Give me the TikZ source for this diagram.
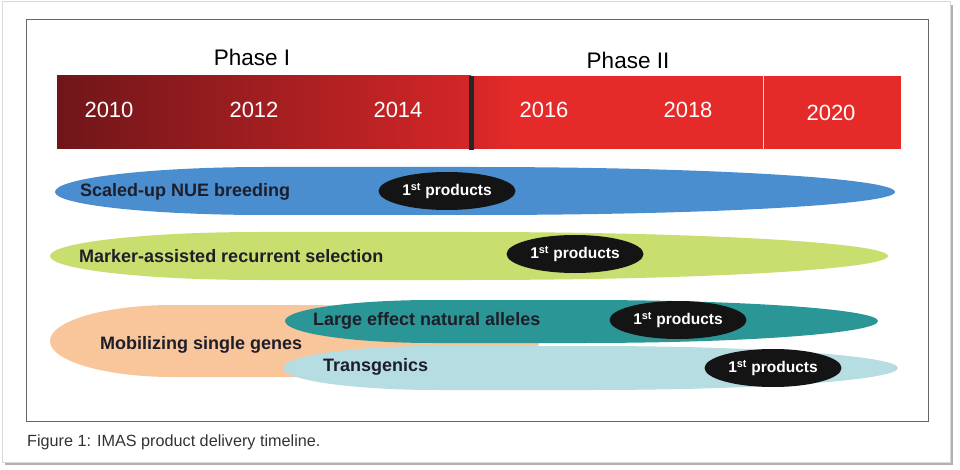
\documentclass[tikz,border=0pt]{standalone}
\usepackage{fontspec}
\setmainfont{Liberation Sans}
\usetikzlibrary{shapes.geometric}
\definecolor{bluel}{HTML}{4A8ECF}
\definecolor{greenl}{HTML}{C8DE6E}
\definecolor{orangel}{HTML}{F9C59B}
\definecolor{teall}{HTML}{2A9696}
\definecolor{lbluel}{HTML}{B6DDE2}
\definecolor{darkredc}{HTML}{6F1619}
\definecolor{midredc}{HTML}{9B1F22}
\definecolor{endredc}{HTML}{D42628}
\definecolor{brightredc}{HTML}{E52A2A}
\definecolor{labelc}{HTML}{1E1E2A}
\definecolor{capc}{HTML}{333333}
\newcommand\leafshape[6]{%
  \pgfmathsetmacro\lfa{#1+0.25*(#2-#1)}%
  \pgfmathsetmacro\lfb{#2-0.5*(#2-#1)}%
  \fill[#6] (#1,#3) .. controls (#1,{#3-0.552*(#3-#4)}) and ({#1+0.448*(\lfa-#1)},#4) .. (\lfa,#4)
    -- (\lfb,#4) .. controls ({#2-0.448*(#2-\lfb)},#4) and (#2,{#3-0.552*(#3-#4)}) .. (#2,#3)
    .. controls (#2,{#3+0.552*(#5-#3)}) and ({#2-0.448*(#2-\lfb)},#5) .. (\lfb,#5)
    -- (\lfa,#5) .. controls ({#1+0.448*(\lfa-#1)},#5) and (#1,{#3+0.552*(#5-#3)}) .. cycle;}
\tikzset{
  year/.style={text=white, font=\fontsize{22}{24}\selectfont, inner sep=0pt},
  phase/.style={text=black, font=\fontsize{22.5}{25}\selectfont, inner sep=0pt},
  track/.style={text=labelc, font=\fontsize{18}{20}\selectfont\bfseries, inner sep=0pt, anchor=west},
  prod/.style={ellipse, fill=black!92, text=white, font=\fontsize{15.5}{17}\selectfont\bfseries,
    inner sep=0pt, minimum width=137pt, minimum height=38pt},
}
\begin{document}
\begin{tikzpicture}[x=1pt,y=-1pt]
\useasboundingbox (0,0) rectangle (960,470);
% outer frame with shadow
\fill[gray!60] (5,5) rectangle (953,465);
\filldraw[fill=white, draw=gray!30, line width=1pt] (2,2) rectangle (950,462);
% inner frame
\draw[black!60, line width=1pt] (26,20) rectangle (928,421);
% phases
\node[phase] (ph1) at (252,57) {Phase I};
\node[phase] (ph2) at (628,60) {Phase II};
% timeline bar
\shade[left color=darkredc, middle color=midredc, right color=endredc] (57,76) rectangle (471,149);
\fill[brightredc] (471,76) rectangle (901,149);
\foreach \k in {0,...,9} {
  \pgfmathsetmacro\pct{100-10*\k}
  \fill[endredc!\pct!brightredc] ({472+4*\k},76) rectangle ({476.5+4*\k},149);
}
\fill[black!85] (469,76) rectangle (474,150);
\draw[white!75!gray, line width=0.8pt] (763,75) -- (763,150);
\node[year] (y2010) at (109,110) {2010};
\node[year] (y2012) at (254,110) {2012};
\node[year] (y2014) at (398,110) {2014};
\node[year] (y2016) at (544,110) {2016};
\node[year] (y2018) at (688,110) {2018};
\node[year] (y2020) at (831,113) {2020};
% tracks
\leafshape{55}{895}{192}{167}{215}{bluel}
\leafshape{50}{888}{256}{232}{280}{greenl}
\leafshape{50}{540}{341}{305}{377}{orangel}
\leafshape{283}{898}{368}{346}{390}{lbluel}
\leafshape{285}{878}{321}{300}{343}{teall}
\node[track] (t1) at (80,192) {Scaled-up NUE breeding};
\node[track] (t2) at (79,256) {Marker-assisted recurrent selection};
\node[track] (t3) at (100,345) {Mobilizing single genes};
\node[track] (t4) at (313,321) {Large effect natural alleles};
\node[track] (t5) at (323,367) {Transgenics};
\node[prod] (p1) at (447,191) {1\textsuperscript{st} products};
\node[prod] (p2) at (575,254) {1\textsuperscript{st} products};
\node[prod] (p3) at (678,320) {1\textsuperscript{st} products};
\node[prod] (p4) at (773,368) {1\textsuperscript{st} products};
% caption
\node[text=capc, font=\fontsize{16.2}{18}\selectfont, anchor=west, inner sep=0pt] (cap) at (27,442) {Figure 1: IMAS product delivery timeline.};
\end{tikzpicture}
\end{document}
